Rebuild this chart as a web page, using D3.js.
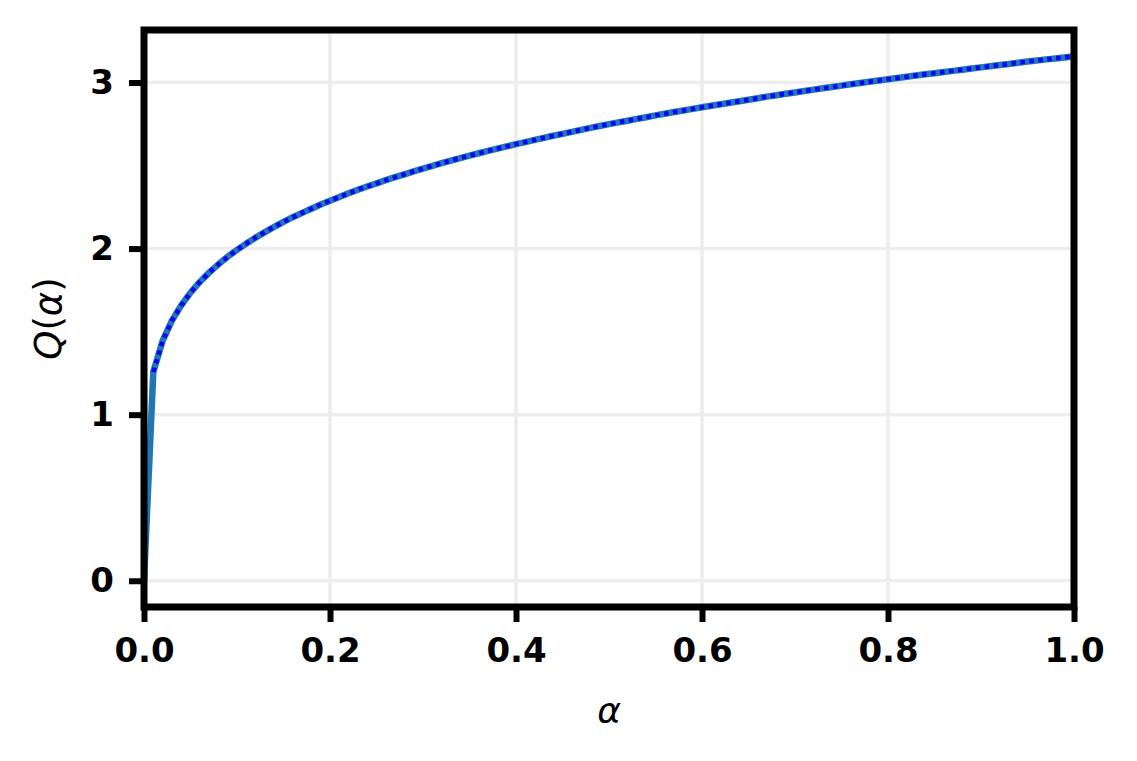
<!DOCTYPE html>
<html>
<head>
<meta charset="utf-8">
<script src="https://cdn.jsdelivr.net/npm/d3@7"></script>
<style>
  html, body { margin: 0; padding: 0; background: #ffffff; }
  svg { display: block; }
  .tick text { font-family: "DejaVu Sans", sans-serif; font-weight: bold; }
  .dotted { stroke-dasharray: 4.5 4.5; }
</style>
</head>
<body>
<svg id="chart" width="1137" height="761"></svg>
<script>
// alpha grid, 0.00 .. 1.00 in steps of 0.01
const alphaValues = [
  0.00, 0.01, 0.02, 0.03, 0.04, 0.05, 0.06, 0.07, 0.08, 0.09,
  0.10, 0.11, 0.12, 0.13, 0.14, 0.15, 0.16, 0.17, 0.18, 0.19,
  0.20, 0.21, 0.22, 0.23, 0.24, 0.25, 0.26, 0.27, 0.28, 0.29,
  0.30, 0.31, 0.32, 0.33, 0.34, 0.35, 0.36, 0.37, 0.38, 0.39,
  0.40, 0.41, 0.42, 0.43, 0.44, 0.45, 0.46, 0.47, 0.48, 0.49,
  0.50, 0.51, 0.52, 0.53, 0.54, 0.55, 0.56, 0.57, 0.58, 0.59,
  0.60, 0.61, 0.62, 0.63, 0.64, 0.65, 0.66, 0.67, 0.68, 0.69,
  0.70, 0.71, 0.72, 0.73, 0.74, 0.75, 0.76, 0.77, 0.78, 0.79,
  0.80, 0.81, 0.82, 0.83, 0.84, 0.85, 0.86, 0.87, 0.88, 0.89,
  0.90, 0.91, 0.92, 0.93, 0.94, 0.95, 0.96, 0.97, 0.98, 0.99,
  1.00
];

// Q(alpha)
const qValues = [
  0.000, 1.257, 1.444, 1.566, 1.658, 1.735, 1.799, 1.855, 1.905, 1.951,
  1.992, 2.030, 2.066, 2.099, 2.131, 2.161, 2.189, 2.215, 2.240, 2.265,
  2.288, 2.310, 2.333, 2.354, 2.374, 2.393, 2.412, 2.430, 2.447, 2.465,
  2.481, 2.498, 2.514, 2.530, 2.545, 2.560, 2.574, 2.588, 2.602, 2.615,
  2.629, 2.641, 2.654, 2.667, 2.679, 2.691, 2.703, 2.715, 2.727, 2.738,
  2.749, 2.760, 2.770, 2.781, 2.791, 2.802, 2.812, 2.822, 2.831, 2.841,
  2.851, 2.860, 2.869, 2.878, 2.887, 2.896, 2.905, 2.915, 2.923, 2.932,
  2.940, 2.949, 2.957, 2.965, 2.973, 2.981, 2.989, 2.997, 3.004, 3.012,
  3.019, 3.027, 3.034, 3.042, 3.049, 3.056, 3.063, 3.070, 3.077, 3.084,
  3.091, 3.098, 3.105, 3.111, 3.119, 3.126, 3.132, 3.139, 3.145, 3.151,
  3.158
];

const xTicks = [0.0, 0.2, 0.4, 0.6, 0.8, 1.0];
const yTicks = [0, 1, 2, 3];

const svg = d3.select("#chart");
const margin = { left: 144, right: 1137 - 1074, top: 30, bottom: 761 - 607 };
const width = 1137 - margin.left - margin.right;
const height = 761 - margin.top - margin.bottom;

const x = d3.scaleLinear().domain([0, 1]).range([0, width]);
const y = d3.scaleLinear().domain([-0.158, 3.316]).range([height, 0]);

const g = svg.append("g").attr("transform", `translate(${margin.left},${margin.top})`);

g.append("clipPath").attr("id", "plot-clip")
  .append("rect").attr("width", width).attr("height", height);

// grid
g.append("g")
  .selectAll("line")
  .data(xTicks)
  .join("line")
  .attr("x1", (d) => x(d)).attr("x2", (d) => x(d))
  .attr("y1", 0).attr("y2", height)
  .attr("stroke", "#ededed")
  .attr("stroke-width", 3.5);

g.append("g")
  .selectAll("line")
  .data(yTicks)
  .join("line")
  .attr("x1", 0).attr("x2", width)
  .attr("y1", (d) => y(d)).attr("y2", (d) => y(d))
  .attr("stroke", "#ededed")
  .attr("stroke-width", 3.5);

const points = alphaValues.map((a, i) => ({ a, q: qValues[i] }));

const line = d3.line().x((d) => x(d.a)).y((d) => y(d.q));

const plot = g.append("g").attr("clip-path", "url(#plot-clip)");

plot.append("path")
  .datum(points)
  .attr("d", line)
  .attr("fill", "none")
  .attr("stroke", "#1f77b4")
  .attr("stroke-width", 6.5)
  .attr("stroke-linejoin", "round");

// dotted overlay only defined for alpha > 0
plot.append("path")
  .datum(points.filter((d) => d.a > 0))
  .attr("class", "dotted")
  .attr("d", line)
  .attr("fill", "none")
  .attr("stroke", "#0000ff")
  .attr("stroke-width", 4.5);

// axes
const xAxis = g.append("g")
  .attr("transform", `translate(0,${height})`)
  .call(d3.axisBottom(x).tickValues(xTicks).tickFormat(d3.format(".1f")).tickSize(15).tickSizeOuter(0).tickPadding(16));

const yAxis = g.append("g")
  .call(d3.axisLeft(y).tickValues(yTicks).tickFormat(d3.format("d")).tickSize(15).tickSizeOuter(0).tickPadding(15));

[xAxis, yAxis].forEach((ax) => {
  ax.select(".domain").remove();
  ax.selectAll(".tick line").attr("stroke", "#000").attr("stroke-width", 6);
  ax.selectAll(".tick text").attr("fill", "#000").style("font-size", "34px");
});

// frame
g.append("rect")
  .attr("width", width)
  .attr("height", height)
  .attr("fill", "none")
  .attr("stroke", "#000")
  .attr("stroke-width", 7);

// axis labels
svg.append("text")
  .attr("x", margin.left + width / 2)
  .attr("y", 723)
  .attr("text-anchor", "middle")
  .style("font-family", "'DejaVu Sans', sans-serif")
  .style("font-style", "italic")
  .style("font-size", "36px")
  .text("α");

svg.append("text")
  .attr("transform", `translate(61,${margin.top + height / 2}) rotate(-90)`)
  .attr("text-anchor", "middle")
  .style("font-family", "'DejaVu Sans', sans-serif")
  .style("font-size", "37px")
  .html("<tspan font-style='italic'>Q</tspan>(<tspan font-style='italic'>α</tspan>)");
</script>
</body>
</html>
